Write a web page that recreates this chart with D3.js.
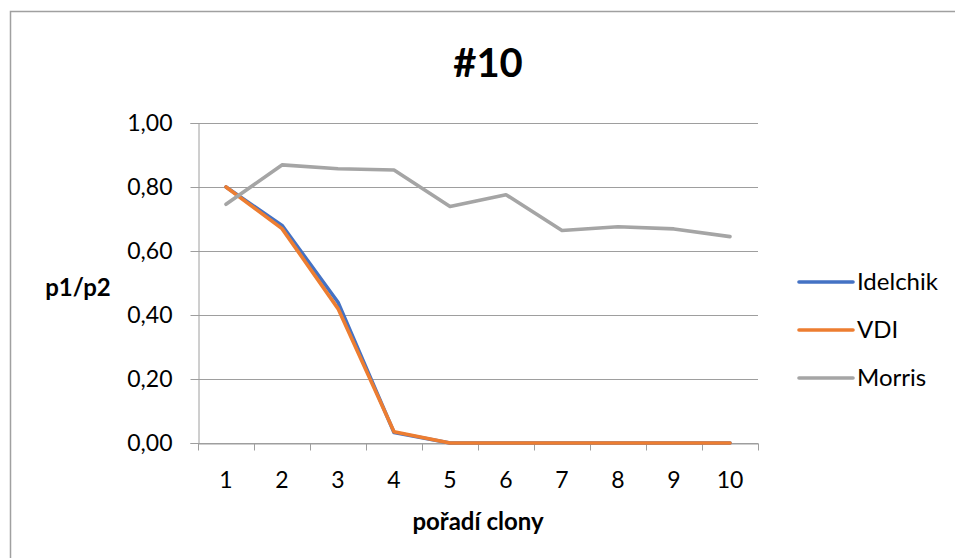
<!DOCTYPE html>
<html>
<head>
<meta charset="utf-8">
<script src="https://cdn.jsdelivr.net/npm/d3@7"></script>
<style>
  body { margin: 0; background: #fff; }
  svg text { font-family: Lato, "Open Sans", sans-serif; fill: #000; }
</style>
</head>
<body>
<div id="chart"></div>
<script>
// chart data
const categories = ["1", "2", "3", "4", "5", "6", "7", "8", "9", "10"];
const idelchik = [0.80, 0.68, 0.44, 0.033, 0, 0, 0, 0, 0, 0];
const vdi = [0.80, 0.67, 0.42, 0.035, 0, 0, 0, 0, 0, 0];
const morris = [0.746, 0.869, 0.857, 0.853, 0.739, 0.776, 0.664, 0.676, 0.669, 0.645];
const yTicks = [0, 0.2, 0.4, 0.6, 0.8, 1.0];

const series = [
    {name: "Idelchik", values: idelchik, color: "#4472C4"},
    {name: "VDI", values: vdi, color: "#ED7D31"},
    {name: "Morris", values: morris, color: "#A5A5A5"}
];

const width = 955, height = 558;
const margin = {top: 123, right: 197, bottom: 115, left: 198};

const svg = d3.select("#chart").append("svg")
    .attr("width", width)
    .attr("height", height);

// chart frame
svg.append("rect")
    .attr("x", 10.5).attr("y", 11.5)
    .attr("width", 960).attr("height", 560)
    .attr("fill", "none")
    .attr("stroke", "#a0a0a0")
    .attr("stroke-width", 1.5);

const x = d3.scaleBand()
    .domain(categories)
    .range([margin.left, width - margin.right]);

const y = d3.scaleLinear()
    .domain([0, 1])
    .range([height - margin.bottom, margin.top]);

const fmt = d => d3.format(".2f")(d).replace(".", ",");

// gridlines
svg.append("g")
    .selectAll("line")
    .data(yTicks)
    .join("line")
    .attr("x1", margin.left)
    .attr("x2", width - margin.right)
    .attr("y1", d => Math.round(y(d)) + 0.5)
    .attr("y2", d => Math.round(y(d)) + 0.5)
    .attr("stroke", "#9e9e9e")
    .attr("stroke-width", 1);

// y axis
const yAxis = svg.append("g")
    .attr("transform", `translate(${margin.left + 0.5},0)`)
    .call(d3.axisLeft(y).tickValues(yTicks).tickFormat(fmt).tickSize(8).tickPadding(18));
yAxis.select(".domain").attr("stroke", "#9e9e9e");
yAxis.selectAll(".tick line").attr("stroke", "#9e9e9e");
yAxis.selectAll(".tick text")
    .attr("font-size", 23)
    .attr("font-family", "Lato, sans-serif");

// x axis, ticks between categories
const xAxis = svg.append("g")
    .attr("transform", `translate(0,${Math.round(y(0)) + 0.5})`)
    .call(d3.axisBottom(x).tickSize(0).tickPadding(28));
xAxis.select(".domain").attr("stroke", "#9e9e9e");
xAxis.selectAll(".tick text")
    .attr("font-size", 23)
    .attr("font-family", "Lato, sans-serif");

const bounds = categories.map(c => x(c)).concat([x.range()[1]]);
xAxis.selectAll(".sep")
    .data(bounds)
    .join("line")
    .attr("class", "sep")
    .attr("x1", d => Math.round(d) + 0.5)
    .attr("x2", d => Math.round(d) + 0.5)
    .attr("y1", 0)
    .attr("y2", 7)
    .attr("stroke", "#9e9e9e");

// lines
const line = d3.line()
    .x((d, i) => x(categories[i]) + x.bandwidth() / 2)
    .y(d => y(d));

svg.append("g")
    .selectAll("path")
    .data(series)
    .join("path")
    .attr("d", d => line(d.values))
    .attr("fill", "none")
    .attr("stroke", d => d.color)
    .attr("stroke-width", 3.6)
    .attr("stroke-linejoin", "round")
    .attr("stroke-linecap", "round");

// title
svg.append("text")
    .attr("x", 488)
    .attr("y", 77)
    .attr("text-anchor", "middle")
    .attr("font-size", 40)
    .attr("font-weight", "bold")
    .text("#10");

// axis titles
svg.append("text")
    .attr("x", 478)
    .attr("y", 530)
    .attr("text-anchor", "middle")
    .attr("font-size", 24)
    .attr("font-weight", "bold")
    .text("pořadí clony");

svg.append("text")
    .attr("x", 78)
    .attr("y", 296)
    .attr("text-anchor", "middle")
    .attr("font-size", 24)
    .attr("font-weight", "bold")
    .text("p1/p2");

// legend
const legend = svg.append("g")
    .selectAll("g")
    .data(series)
    .join("g")
    .attr("transform", (d, i) => `translate(799,${282 + i * 48})`);

legend.append("line")
    .attr("x1", 0).attr("x2", 54)
    .attr("y1", 0).attr("y2", 0)
    .attr("stroke", d => d.color)
    .attr("stroke-width", 3.6)
    .attr("stroke-linecap", "round");

legend.append("text")
    .attr("x", 58)
    .attr("y", 8)
    .attr("font-size", 24)
    .text(d => d.name);
</script>
</body>
</html>
